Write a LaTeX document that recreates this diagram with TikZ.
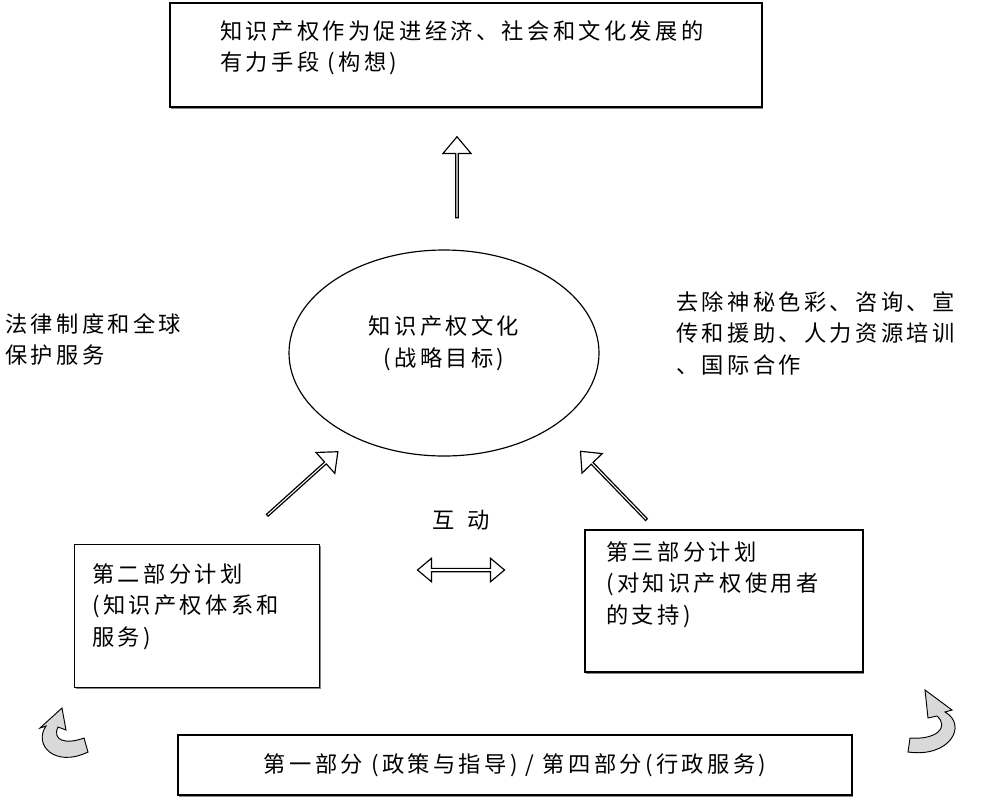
\documentclass[tikz,border=0pt]{standalone}
\usepackage{fontspec}
\setmainfont{Noto Sans CJK SC}[LetterSpace=15]
\usetikzlibrary{shapes.arrows,shapes.geometric,shadows}
\begin{document}
\begin{tikzpicture}[x=0.03cm,y=-0.03cm,
  txt/.style={font=\fontsize{19pt}{27pt}\selectfont,inner sep=0pt},
  bx/.style={draw,line width=1.2pt,fill=white,drop shadow={shadow xshift=1pt,shadow yshift=-1.5pt,opacity=0.8,fill=black!60}},
  blk/.style={draw,line width=1pt,fill=white,single arrow,minimum height=#1,single arrow head extend=5pt,minimum width=24pt,inner sep=0pt,single arrow tip angle=80},
  curl/.style={draw,line width=0.8pt,fill=gray!30}]
\useasboundingbox (0,0) rectangle (988,801);
\node[bx,minimum width=592*0.03cm,minimum height=104*0.03cm] (top) at (466,55) {};
\node[txt,anchor=north west,align=left] (toptxt) at (220,20) {知识产权作为促进经济、社会和文化发展的\\有力手段 (构想)};
\node[blk=81*0.03cm,rotate=90] (up) at (457,178) {};
\node[draw,line width=1pt,ellipse,minimum width=310*0.03cm,minimum height=206*0.03cm] (ell) at (444,353) {};
\node[txt,align=center] (elltxt) at (444,343) {知识产权文化\\(战略目标)};
\node[txt,anchor=north west,align=left] (lt) at (5,313) {法律制度和全球\\保护服务};
\node[txt,anchor=north west,align=left] (rt) at (676,291) {去除神秘色彩、咨询、宣\\传和援助、人力资源培训\\、国际合作};
\node[blk=95*0.03cm,rotate=42] (la) at (302,484) {};
\node[blk=95*0.03cm,rotate=134] (ra) at (614,486) {};
\node[txt] (hd) at (461,520) {互\hspace{0.6em}动};
\node[draw,line width=1pt,fill=white,double arrow,minimum height=87*0.03cm,minimum width=20pt,double arrow head extend=3pt,inner sep=0pt,double arrow tip angle=80] (dd) at (461,570) {};
\node[bx,minimum width=245*0.03cm,minimum height=143*0.03cm] (b2) at (197,616) {};
\node[txt,anchor=north west,align=left] (b2t) at (92,563) {第二部分计划\\(知识产权体系和\\服务)};
\node[bx,minimum width=278*0.03cm,minimum height=142*0.03cm] (b3) at (724,601) {};
\node[txt,anchor=north west,align=left] (b3t) at (606,541) {第三部分计划\\(对知识产权使用者\\的支持)};
\node[bx,minimum width=674*0.03cm,minimum height=60*0.03cm] (b1) at (515,765) {};
\node[txt] (b1t) at (515,765) {第一部分 (政策与指导) / 第四部分(行政服务)};
\draw[curl] (88,752) .. controls (55,768) and (33,745) .. (46,726) -- (40,728) -- (62,708) -- (66,730) -- (58,727) .. controls (52,740) and (65,745) .. (84,738) -- cycle;
\draw[curl] (908,752) .. controls (950,758) and (968,725) .. (945,712) -- (952,710) -- (925,690) -- (928,718) -- (937,716) .. controls (950,728) and (935,740) .. (910,738) -- cycle;
\end{tikzpicture}
\end{document}
